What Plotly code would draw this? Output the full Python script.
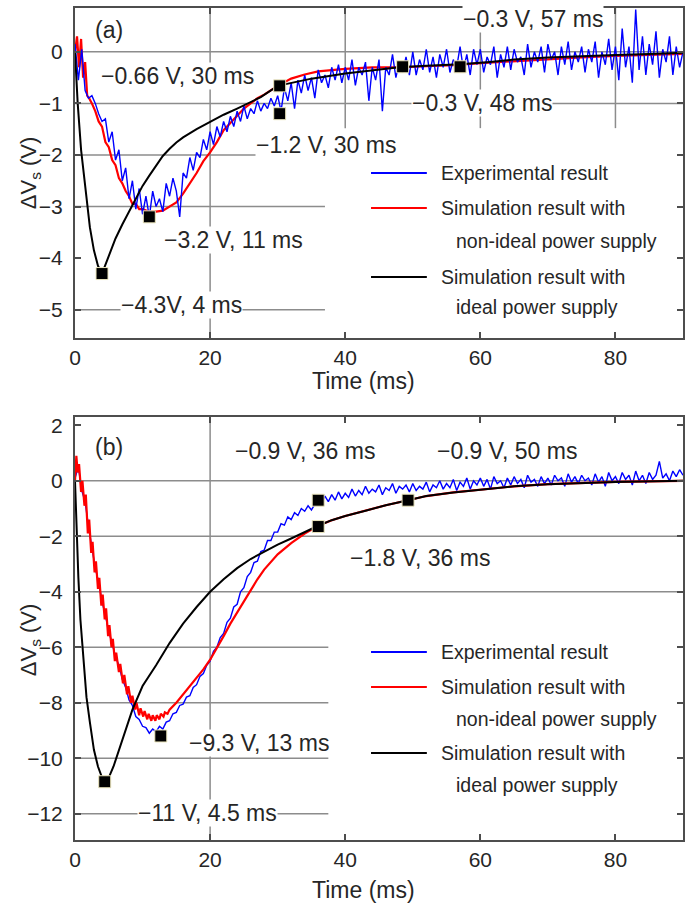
import plotly.graph_objects as go

# ---------------- panel (a) data ----------------
t_exp = [
    0.0, 0.5, 1.0, 1.5, 2.0, 2.5, 3.0, 3.5, 4.0, 4.5,
    5.0, 5.5, 6.0, 6.5, 7.0, 7.5, 8.0, 8.5, 9.0, 9.5,
    10.0, 10.5, 11.0, 11.5, 12.0, 12.5, 13.0, 13.5, 14.0, 14.5,
    15.0, 15.5, 16.0, 16.5, 17.0, 17.5, 18.0, 18.5, 19.0, 19.5,
    20.0, 20.5, 21.0, 21.5, 22.0, 22.5, 23.0, 23.5, 24.0, 24.5,
    25.0, 25.5, 26.0, 26.5, 27.0, 27.5, 28.0, 28.5, 29.0, 29.5,
    30.0, 30.5, 31.0, 31.5, 32.0, 32.5, 33.0, 33.5, 34.0, 34.5,
    35.0, 35.5, 36.0, 36.5, 37.0, 37.5, 38.0, 38.5, 39.0, 39.5,
    40.0, 40.5, 41.0, 41.5, 42.0, 42.5, 43.0, 43.5, 44.0, 44.5,
    45.0, 45.5, 46.0, 46.5, 47.0, 47.5, 48.0, 48.5, 49.0, 49.5,
    50.0, 50.5, 51.0, 51.5, 52.0, 52.5, 53.0, 53.5, 54.0, 54.5,
    55.0, 55.5, 56.0, 56.5, 57.0, 57.5, 58.0, 58.5, 59.0, 59.5,
    60.0, 60.5, 61.0, 61.5, 62.0, 62.5, 63.0, 63.5, 64.0, 64.5,
    65.0, 65.5, 66.0, 66.5, 67.0, 67.5, 68.0, 68.5, 69.0, 69.5,
    70.0, 70.5, 71.0, 71.5, 72.0, 72.5, 73.0, 73.5, 74.0, 74.5,
    75.0, 75.5, 76.0, 76.5, 77.0, 77.5, 78.0, 78.5, 79.0, 79.5,
    80.0, 80.5, 81.0, 81.5, 82.0, 82.5, 83.0, 83.5, 84.0, 84.5,
    85.0, 85.5, 86.0, 86.5, 87.0, 87.5, 88.0, 88.5, 89.0, 89.5,
    90.0,
]

exp_a = [
    0.15, -0.55, 0.05, -0.75, -0.9, -0.85, -1.0, -1.2, -1.35, -1.3,
    -1.75, -1.55, -2.1, -1.9, -2.5, -2.25, -2.85, -2.5, -3.05, -2.65,
    -3.15, -2.8, -3.2, -2.7, -3.0, -2.85, -3.1, -2.55, -2.8, -2.45,
    -2.7, -3.2, -2.35, -2.45, -2.05, -2.3, -1.95, -2.05, -1.7, -1.9,
    -1.55, -1.8, -1.45, -1.65, -1.35, -1.55, -1.25, -1.45, -1.15, -1.35,
    -1.05, -1.3, -1.1, -1.2, -0.95, -1.15, -1.0, -1.1, -0.9, -1.05,
    -0.85, -1.15, -0.7, -0.95, -0.6, -1.1, -0.55, -0.8, -0.45, -0.75,
    -0.5, -0.9, -0.35, -0.6, -0.45, -0.7, -0.3, -0.55, -0.25, -0.6,
    -0.3, -0.55, -0.15, -0.65, -0.3, -0.45, -0.2, -0.95, -0.3, -0.55,
    -0.15, -1.15, -0.3, -0.45, -0.05, -0.5, -0.2, -0.4, -0.1, -0.45,
    0.0, -0.45, -0.15, -0.35, 0.05, -0.4, -0.1, -0.5, -0.05, -0.3,
    0.05, -0.4, -0.15, -0.3, 0.1, -0.35, -0.05, -0.45, 0.05, -0.25,
    0.05, -0.4, -0.1, -0.25, 0.1, -0.5, -0.05, -0.3, 0.1, -0.35,
    0.05, -0.2, -0.1, -0.45, 0.15, -0.3, 0.0, -0.2, 0.1, -0.4,
    0.15, -0.15, 0.0, -0.45, 0.1, -0.25, 0.2, -0.35, 0.0, -0.2,
    0.1, -0.4, 0.05, -0.2, 0.2, -0.5, 0.0, -0.25, 0.25, -0.35,
    0.1, -0.55, 0.45, -0.3, 0.1, -0.6, 0.82, -0.35, 0.3, -0.45,
    0.15, -0.25, 0.4, -0.5, 0.05, -0.2, 0.3, -0.45, 0.1, -0.3,
    0.0,
]

t_real_a = [0.0, 0.3, 0.6, 0.9, 1.2, 1.5, 1.8, 2.1, 2.5,
            3.0, 3.5, 4.0, 4.5, 5.0, 5.5, 6.0, 6.5, 7.0, 7.5, 8.0, 8.5, 9.0, 9.5, 10.0,
            11.0, 12.0, 13.0, 14.0, 15.0, 16.0, 17.0, 18.0, 19.0, 20.0,
            21.0, 22.0, 23.0, 24.0, 25.0, 26.0, 27.0, 28.0, 29.0, 30.0,
            32.0, 34.0, 36.0, 38.0, 40.0, 44.0, 48.0, 52.0, 56.0, 60.0,
            65.0, 70.0, 75.0, 80.0, 85.0, 90.0]
real_a = [0.0, 0.3, -0.3, 0.25, -0.5, -0.2, -0.85, -0.9, -1.0,
          -1.15, -1.35, -1.45, -1.75, -1.85, -2.1, -2.2, -2.45, -2.55, -2.7, -2.8, -2.95, -2.95, -3.05, -3.05,
          -3.1, -3.1, -3.08, -3.0, -2.92, -2.75, -2.55, -2.35, -2.12, -1.95,
          -1.75, -1.52, -1.38, -1.25, -1.1, -1.0, -0.9, -0.83, -0.75, -0.66,
          -0.52, -0.44, -0.38, -0.35, -0.33, -0.3, -0.3, -0.28, -0.26, -0.22,
          -0.18, -0.14, -0.11, -0.08, -0.06, -0.04]

t_ideal_a = [0.0, 0.4, 0.9, 1.5, 2.2, 2.8, 3.4, 4.0,
             5.0, 6.0, 7.0, 8.0, 9.0, 10.0, 11.0, 12.0, 13.0, 14.0, 15.0, 16.0,
             18.0, 20.0, 22.0, 24.0, 26.0, 27.5,
             30.0, 32.0, 35.0, 40.0, 44.0, 48.0, 52.0, 57.0, 61.0, 65.0, 70.0, 75.0, 80.0, 85.0, 90.0]
ideal_a = [0.0, -1.0, -1.9, -2.6, -3.4, -3.85, -4.15, -4.3,
           -3.95, -3.62, -3.35, -3.1, -2.85, -2.6, -2.4, -2.2, -2.02, -1.88, -1.76, -1.66,
           -1.5, -1.36, -1.22, -1.1, -0.98, -0.88,
           -0.66, -0.6, -0.52, -0.42, -0.36, -0.3, -0.27, -0.24, -0.2, -0.15, -0.11, -0.08, -0.06, -0.04, -0.02]

mark_t_a = [4.0, 11.0, 30.3, 30.3, 48.5, 57.0]
mark_v_a = [-4.3, -3.2, -0.66, -1.2, -0.29, -0.29]
labels_a = ["−0.66 V, 30 ms", "−1.2 V, 30 ms", "−3.2 V, 11 ms", "−4.3V, 4 ms",
            "−0.3 V, 57 ms", "−0.3 V, 48 ms"]

# ---------------- panel (b) data ----------------
exp_b = [
    0.1, 0.5, -0.35, -0.75, -1.65, -2.35, -3.15, -3.65, -4.35, -4.85,
    -5.45, -5.85, -6.35, -6.65, -7.15, -7.45, -7.9, -8.1, -8.5, -8.6,
    -8.85, -8.9, -9.1, -8.95, -9.05, -8.85, -8.95, -8.7, -8.65, -8.4,
    -8.35, -8.1, -8.05, -7.8, -7.75, -7.45, -7.35, -7.05, -6.95, -6.65,
    -6.5, -6.15, -6.0, -5.65, -5.5, -5.1, -4.95, -4.55, -4.45, -4.0,
    -3.85, -3.45, -3.3, -2.95, -2.9, -2.55, -2.5, -2.15, -2.15, -1.85,
    -1.85, -1.55, -1.6, -1.3, -1.4, -1.15, -1.25, -1.0, -1.1, -0.9,
    -1.05, -0.85, -0.6, -0.8, -0.55, -0.75, -0.5, -0.7, -0.4, -0.65,
    -0.45, -0.6, -0.3, -0.55, -0.35, -0.5, -0.2, -0.45, -0.3, -0.4,
    -0.15, -0.5, -0.25, -0.35, -0.1, -0.45, -0.2, -0.3, -0.15, -0.4,
    -0.1, -0.35, -0.2, -0.3, -0.05, -0.4, -0.15, -0.25, 0.0, -0.3,
    -0.1, -0.25, 0.05, -0.35, -0.05, -0.2, 0.1, -0.3, 0.0, -0.15,
    0.1, -0.2, 0.05, -0.3, 0.15, -0.1, 0.0, -0.25, 0.1, -0.15,
    0.15, -0.1, 0.05, -0.25, 0.2, -0.05, 0.05, -0.2, 0.15, -0.1,
    0.1, -0.15, 0.2, 0.0, 0.1, -0.2, 0.25, -0.05, 0.15, -0.1,
    0.2, 0.0, 0.1, -0.15, 0.25, -0.05, 0.15, -0.2, 0.3, 0.0,
    0.15, -0.1, 0.3, 0.05, 0.2, -0.15, 0.35, 0.0, 0.2, -0.1,
    0.3, 0.05, 0.2, 0.7, 0.1, 0.25, 0.0, 0.35, 0.15, 0.4,
    0.2,
]

t_real_b = [0.0, 0.2, 0.4, 0.6,
            0.9, 1.1, 1.4, 1.6, 1.9, 2.1, 2.4, 2.6, 2.9, 3.1, 3.4, 3.6, 3.9, 4.1,
            4.4, 4.6, 4.9, 5.1, 5.4, 5.6, 5.9, 6.1,
            6.5, 6.7, 7.1, 7.3, 7.7, 7.9, 8.3, 8.5, 8.9, 9.1, 9.5, 9.7,
            10.1, 10.3, 10.7, 10.9, 11.3, 11.5, 11.9, 12.1, 12.5, 12.7, 13.1, 13.3, 13.7, 14.0,
            15.0, 16.0, 17.0, 18.0, 19.0, 20.0, 21.0, 22.0, 23.0, 24.0, 25.0, 26.0, 27.0, 28.0,
            30.0, 32.0, 34.0, 36.0, 38.0, 40.0,
            43.0, 46.0, 49.3, 52.0, 56.0, 61.0, 65.0, 70.0, 75.0, 80.0, 90.0]
real_b = [0.0, 0.9, 0.3, 0.6,
          -0.4, 0.0, -0.9, -0.5, -1.9, -1.4, -2.6, -2.2, -3.3, -2.9, -3.9, -3.5, -4.5, -4.1,
          -5.0, -4.6, -5.6, -5.2, -6.0, -5.7, -6.5, -6.2,
          -6.9, -6.6, -7.3, -7.0, -7.7, -7.4, -8.0, -7.75, -8.25, -8.0, -8.45, -8.2,
          -8.5, -8.3, -8.6, -8.4, -8.65, -8.45, -8.65, -8.45, -8.6, -8.4, -8.5, -8.35, -8.4, -8.25,
          -8.0, -7.7, -7.4, -7.1, -6.8, -6.45, -6.05, -5.6, -5.15, -4.75, -4.35, -3.95, -3.55, -3.2,
          -2.65, -2.25, -1.9, -1.62, -1.42, -1.27,
          -1.08, -0.88, -0.7, -0.55, -0.42, -0.29, -0.2, -0.12, -0.07, -0.04, 0.0]

t_ideal_b = [0.0, 0.2, 0.5, 0.8, 1.2, 1.7, 2.2, 2.8, 3.4, 4.0, 4.5,
             5.0, 5.7, 6.5, 7.5, 8.5, 10.0,
             12.0, 14.0, 16.0, 18.0, 20.0, 22.0, 24.0, 26.0, 28.0, 30.0, 32.0, 34.0, 36.0,
             38.0, 40.0, 43.0, 46.0, 49.3, 52.0, 56.0, 61.0, 65.0, 70.0, 75.0, 80.0, 90.0]
ideal_b = [0.0, -1.5, -3.5, -5.0, -6.4, -7.8, -8.7, -9.7, -10.3, -10.7, -10.85,
           -10.7, -10.3, -9.7, -8.95, -8.25, -7.4,
           -6.65, -5.85, -5.15, -4.55, -4.0, -3.55, -3.15, -2.82, -2.55, -2.3, -2.08, -1.85, -1.62,
           -1.42, -1.27, -1.08, -0.88, -0.7, -0.55, -0.42, -0.29, -0.2, -0.12, -0.07, -0.04, 0.0]

mark_t_b = [4.4, 12.7, 36.0, 36.0, 49.3]
mark_v_b = [-10.85, -9.2, -0.7, -1.65, -0.7]
labels_b = ["−0.9 V, 36 ms", "−0.9 V, 50 ms", "−1.8 V, 36 ms", "−9.3 V, 13 ms",
            "−11 V, 4.5 ms"]

legend_labels = ["Experimental result", "Simulation result with", "non-ideal power supply",
                 "Simulation result with", "ideal power supply"]

# ---------------- styling / layout helpers ----------------
W, H = 686, 907
ML, MR, MT, MB = 75, 1, 8, 67
FONT = "Liberation Sans, Arial, sans-serif"
TXT = "#262626"
GRID = "#8c8c8c"
FRAME = "#4d4d4d"
BLUE, RED, BLACK = "#0000ff", "#ff0000", "#000000"


def px_x(x):
    return (x - ML) / (W - ML - MR)


def px_y(y):
    return (H - MB - y) / (H - MB - MT)


fig = go.Figure()


def lines(t, v, color, width, xa, ya):
    fig.add_trace(go.Scatter(x=t, y=v, mode="lines", xaxis=xa, yaxis=ya,
                             line=dict(color=color, width=width), hoverinfo="skip"))


def markers(t, v, xa, ya):
    fig.add_trace(go.Scatter(x=t, y=v, mode="markers", xaxis=xa, yaxis=ya,
                             marker=dict(symbol="square", size=12, color="black",
                                         line=dict(color="#ece6bd", width=1))))


# panel (a): red under blue, black on top
lines(t_real_a, real_a, RED, 2.2, "x", "y")
lines(t_exp, exp_a, BLUE, 1.4, "x", "y")
lines(t_ideal_a, ideal_a, BLACK, 2.0, "x", "y")
markers(mark_t_a, mark_v_a, "x", "y")

# panel (b): blue under red, black on top
lines(t_exp, exp_b, BLUE, 1.4, "x2", "y2")
lines(t_real_b, real_b, RED, 2.2, "x2", "y2")
lines(t_ideal_b, ideal_b, BLACK, 2.0, "x2", "y2")
markers(mark_t_b, mark_v_b, "x2", "y2")

# gridlines drawn by hand (the original has them partly blanked out)
shapes = []


def hgrid(xr, yr, y, x0, x1):
    shapes.append(dict(type="line", xref=xr, yref=yr, x0=x0, x1=x1, y0=y, y1=y,
                       line=dict(color=GRID, width=1.5), layer="below"))


def vgrid(xr, yr, x, y0, y1):
    shapes.append(dict(type="line", xref=xr, yref=yr, x0=x, x1=x, y0=y0, y1=y1,
                       line=dict(color=GRID, width=1.5), layer="below"))


for y, x1 in [(0, 90), (-1, 90), (-2, 37), (-3, 37), (-5, 37)]:
    hgrid("x", "y", y, 0, x1)
vgrid("x", "y", 20, -5.55, 0.85)
for x in [40, 60, 80]:
    vgrid("x", "y", x, -1.48, 0.85)

for y, x1 in [(0, 90), (-2, 90), (-4, 90), (-6, 37.5), (-8, 37.5), (-10, 37.5), (-12, 37.5)]:
    hgrid("x2", "y2", y, 0, x1)
vgrid("x2", "y2", 20, -12.95, 2.3)

annotations = []


def text(x, y, s, xr="paper", yr="paper", size=23, anchor="center", bg=None, angle=0):
    a = dict(x=x, y=y, xref=xr, yref=yr, text=s, showarrow=False, xanchor=anchor,
             yanchor="middle", textangle=angle, borderpad=0,
             font=dict(family=FONT, size=size, color=TXT))
    if bg:
        a["bgcolor"] = bg
    annotations.append(a)


# value labels
pos_a = [(15.1, -0.47), (37.2, -1.81), (23.5, -3.65), (15.7, -4.91), (67.8, 0.64), (60.3, -0.99)]
for (x, y), s in zip(pos_a, labels_a):
    text(x, y, s, "x", "y", bg="white")
pos_b = [(34.1, 1.07), (64.0, 1.07), (51.0, -2.79), (27.2, -9.46), (19.6, -11.96)]
for (x, y), s in zip(pos_b, labels_b):
    text(x, y, s, "x2", "y2", bg="white")

text(5.1, 0.43, "(a)", "x", "y")
text(5.1, 1.21, "(b)", "x2", "y2")

# axis titles
for ty in (381, 890):
    text(px_x(364), px_y(ty), "Time (ms)")
for ty in (173, 640):
    text(px_x(30), px_y(ty), "ΔV<sub>s</sub> (V)", size=22, angle=-90)

# hand-made legends
leg_colors = [BLUE, RED, None, BLACK, None]
for rows in ([173, 208, 241, 277, 307], [652, 687, 719, 753, 785]):
    for ry, lab, col in zip(rows, legend_labels, leg_colors):
        if col:
            shapes.append(dict(type="line", xref="paper", yref="paper",
                               x0=px_x(372), x1=px_x(428), y0=px_y(ry), y1=px_y(ry),
                               line=dict(color=col, width=2)))
            text(px_x(441), px_y(ry), lab, size=19.5, anchor="left")
        else:
            text(px_x(456), px_y(ry), lab, size=19.5, anchor="left")

axis_common = dict(showline=True, linecolor=FRAME, linewidth=2, mirror="allticks",
                   ticks="inside", ticklen=6, tickwidth=1.5, tickcolor=FRAME,
                   showgrid=False, zeroline=False,
                   tickfont=dict(family=FONT, size=21, color=TXT))

fig.update_layout(
    width=W, height=H, autosize=False,
    margin=dict(l=ML, r=MR, t=MT, b=MB),
    paper_bgcolor="white", plot_bgcolor="rgba(0,0,0,0)",
    showlegend=False,
    xaxis=dict(domain=[0, 1], range=[0, 90], anchor="y",
               tickvals=[0, 20, 40, 60, 80], **axis_common),
    yaxis=dict(domain=[px_y(338), 1], range=[-5.55, 0.85], anchor="x",
               tickvals=[-5, -4, -3, -2, -1, 0], ticklabelstandoff=6, **axis_common),
    xaxis2=dict(domain=[0, 1], range=[0, 90], anchor="y2",
                tickvals=[0, 20, 40, 60, 80], **axis_common),
    yaxis2=dict(domain=[0, px_y(417)], range=[-12.95, 2.3], anchor="x2",
                tickvals=[-12, -10, -8, -6, -4, -2, 0, 2], ticklabelstandoff=6, **axis_common),
    shapes=shapes,
    annotations=annotations,
)

# the page's default 8px body margin would push the figure off the window
fig.write_html("out.html", config={"displayModeBar": False},
               post_script="document.body.style.margin='0px';")
